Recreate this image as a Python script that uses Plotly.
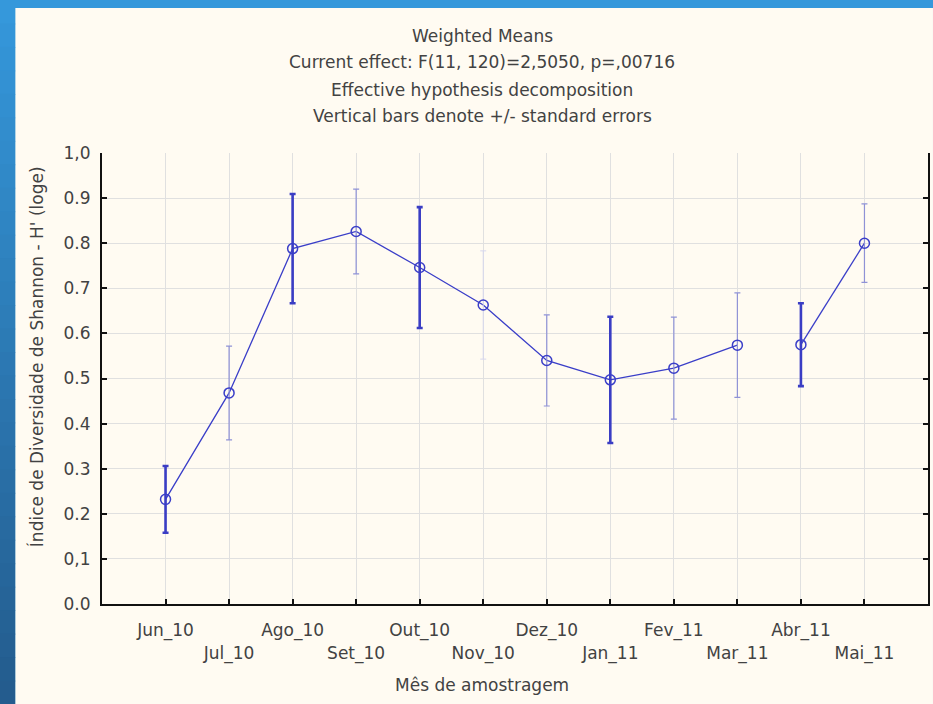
import plotly.graph_objects as go

# ---------------- data ----------------
months = ["Jun_10", "Jul_10", "Ago_10", "Set_10", "Out_10", "Nov_10",
          "Dez_10", "Jan_11", "Fev_11", "Mar_11", "Abr_11", "Mai_11"]
means = [0.232, 0.468, 0.788, 0.826, 0.746, 0.663,
         0.540, 0.497, 0.523, 0.574, 0.575, 0.800]
std_err = [0.074, 0.104, 0.121, 0.094, 0.134, 0.120,
           0.101, 0.140, 0.113, 0.116, 0.092, 0.087]
# rendering weight of each error bar in the original picture
bar_style = ["strong", "light", "strong", "light", "strong", "faint",
             "light", "strong", "light", "light", "strong", "light"]
# connected line segments (start, end) index – line is broken between Mar_11 and Abr_11
segments = [(0, 9), (10, 11)]

y_ticks = [0.0, 0.1, 0.2, 0.3, 0.4, 0.5, 0.6, 0.7, 0.8, 0.9, 1.0]
y_ticktext = ["0.0", "0,1", "0.2", "0.3", "0.4", "0.5", "0.6", "0.7", "0.8", "0.9", "1,0"]

title_lines = ["Weighted Means",
               "Current effect: F(11, 120)=2,5050, p=,00716",
               "Effective hypothesis decomposition",
               "Vertical bars denote +/- standard errors"]
x_title = "Mês de amostragem"
y_title = "Índice de Diversidade de Shannon - H' (loge)"

# ---------------- layout geometry ----------------
W, H = 933, 704
L, R, T, B = 102, 3, 153, 100
PW, PH = W - L - R, H - T - B


def px(x):
    return (x - L) / PW


def py(y):
    return (H - B - y) / PH


FONT = "DejaVu Sans"
FS = 17
TXT = "#424242"
BLUE = "#3a3ec8"

fig = go.Figure()

# connecting line segments
for s, e in segments:
    fig.add_trace(go.Scatter(
        x=months[s:e + 1], y=means[s:e + 1], mode="lines",
        line=dict(color=BLUE, width=1.3), hoverinfo="skip", showlegend=False))

styles = {
    "strong": dict(color="#3a3dc4", thickness=2.6),
    "light": dict(color="#8f92d6", thickness=1.2),
    "faint": dict(color="#d6d7ee", thickness=1.0),
}
for st, sty in styles.items():
    idx = [i for i, b in enumerate(bar_style) if b == st]
    fig.add_trace(go.Scatter(
        x=[months[i] for i in idx], y=[means[i] for i in idx],
        mode="markers",
        marker=dict(symbol="circle-open", size=10, color=BLUE, line=dict(width=1.5)),
        error_y=dict(type="data", array=[std_err[i] for i in idx], visible=True,
                     color=sty["color"], thickness=sty["thickness"], width=3),
        showlegend=False))

# staggered tick labels
x_ticktext = [m if i % 2 == 0 else "<br>" + m for i, m in enumerate(months)]

# background shapes: cream panel on a blue frame, darker gradient on the left edge
shapes = []
shapes.append(dict(type="rect", xref="paper", yref="paper",
                   x0=px(15), x1=px(W + 2), y0=py(8), y1=py(H + 2),
                   fillcolor="#fffbf2", line_width=0, layer="below"))
nb = 30
for k in range(nb):
    t = k / (nb - 1)
    r = int(0x35 + (0x24 - 0x35) * t)
    g = int(0x98 + (0x5c - 0x98) * t)
    b_ = int(0xdb + (0x8e - 0xdb) * t)
    shapes.append(dict(type="rect", xref="paper", yref="paper",
                       x0=px(-1), x1=px(15),
                       y0=py(H * k / nb), y1=py(H * (k + 1) / nb + 1),
                       fillcolor=f"rgb({r},{g},{b_})", line_width=0, layer="below"))

annotations = []
for i, (line, yc) in enumerate(zip(title_lines, [36, 62, 90, 116])):
    annotations.append(dict(text=line, xref="paper", yref="paper",
                            x=px(483), y=py(yc), xanchor="center", yanchor="middle",
                            showarrow=False, font=dict(family=FONT, size=FS, color=TXT)))
annotations.append(dict(text=x_title, xref="paper", yref="paper",
                        x=px(483), y=py(685), xanchor="center", yanchor="middle",
                        showarrow=False, font=dict(family=FONT, size=FS, color=TXT)))
annotations.append(dict(text=y_title, xref="paper", yref="paper", textangle=-90,
                        x=px(36), y=py(357), xanchor="center", yanchor="middle",
                        showarrow=False, font=dict(family=FONT, size=FS, color=TXT)))

fig.update_layout(
    width=W, height=H,
    margin=dict(l=L, r=R, t=T, b=B, pad=0),
    paper_bgcolor="#3598db",
    plot_bgcolor="#ffffff",
    font=dict(family=FONT, size=FS, color=TXT),
    shapes=shapes,
    annotations=annotations,
    xaxis=dict(
        type="category", categoryorder="array", categoryarray=months,
        range=[-1, 12], tickmode="array", tickvals=months, ticktext=x_ticktext,
        tickangle=0,
        showgrid=True, gridcolor="#e0e0e0", gridwidth=1,
        showline=True, linecolor="#111111", linewidth=2,
        ticks="inside", ticklen=5, tickcolor="#111111", tickwidth=2,
        ticklabelstandoff=10, zeroline=False,
        tickfont=dict(family=FONT, size=FS, color=TXT),
    ),
    xaxis2=dict(
        overlaying="x", side="top", anchor="y", matches="x",
        type="category", categoryorder="array", categoryarray=months,
        range=[-1, 12], tickmode="array", tickvals=months,
        showgrid=False, showline=False, showticklabels=False,
        ticks="inside", ticklen=5, tickcolor="#111111", tickwidth=2, zeroline=False,
    ),
    yaxis=dict(
        range=[0, 1.0], tickmode="array", tickvals=y_ticks, ticktext=y_ticktext,
        showgrid=True, gridcolor="#e0e0e0", gridwidth=1,
        showline=True, linecolor="#111111", linewidth=2, mirror="ticks",
        ticks="inside", ticklen=5, tickcolor="#111111", tickwidth=2,
        ticklabelstandoff=6, zeroline=False,
        tickfont=dict(family=FONT, size=FS, color=TXT),
    ),
)

fig.write_html("out.html", config={"displayModeBar": False},
               post_script="document.body.style.margin='0px';")
